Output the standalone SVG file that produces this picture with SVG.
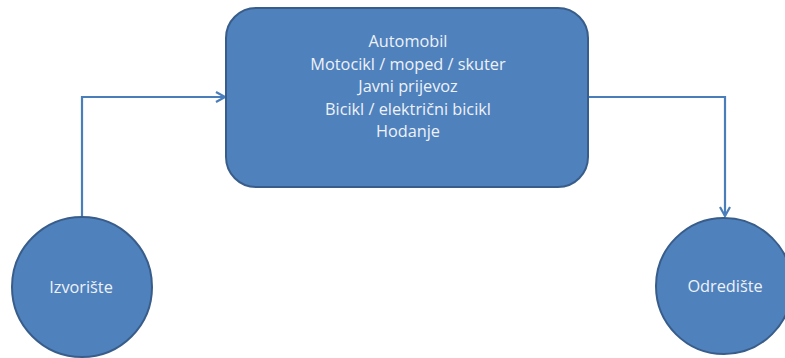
<svg xmlns="http://www.w3.org/2000/svg" width="785" height="358" viewBox="0 0 785 358">
<style>
.shape{fill:#4F81BD;stroke:#385D8A;stroke-width:2}
.lbl{font-family:"Open Sans","Liberation Sans",sans-serif;font-size:16.3px;fill:#EEF2F8;text-anchor:middle}
.conn{fill:none;stroke:#4A7EBB;stroke-width:2.2}
</style>
<defs>
<marker id="arr" viewBox="0 0 12 12" refX="11" refY="6" markerWidth="12" markerHeight="12" orient="auto" markerUnits="userSpaceOnUse">
<path d="M2,1 L11,6 L2,11" fill="none" stroke="#4A7EBB" stroke-width="2.2"/>
</marker>
</defs>
<g id="connectors">
<path class="conn" d="M82,217 L82,97 L225,97" marker-end="url(#arr)"/>
<path class="conn" d="M588,97 L725,97 L725,216" marker-end="url(#arr)"/>
</g>
<g id="modes">
<rect class="shape" x="226" y="8" width="362" height="179" rx="30" ry="30"/>
<text class="lbl" x="408" y="47">Automobil</text>
<text class="lbl" x="408" y="69.5">Motocikl / moped / skuter</text>
<text class="lbl" x="408" y="92">Javni prijevoz</text>
<text class="lbl" x="408" y="114.5">Bicikl / električni bicikl</text>
<text class="lbl" x="408" y="137">Hodanje</text>
</g>
<g id="izvoriste">
<circle class="shape" cx="82" cy="287" r="70"/>
<text class="lbl" x="81" y="293">Izvorište</text>
</g>
<g id="odrediste">
<circle class="shape" cx="724" cy="286" r="68"/>
<text class="lbl" x="725" y="292">Odredište</text>
</g>
</svg>
